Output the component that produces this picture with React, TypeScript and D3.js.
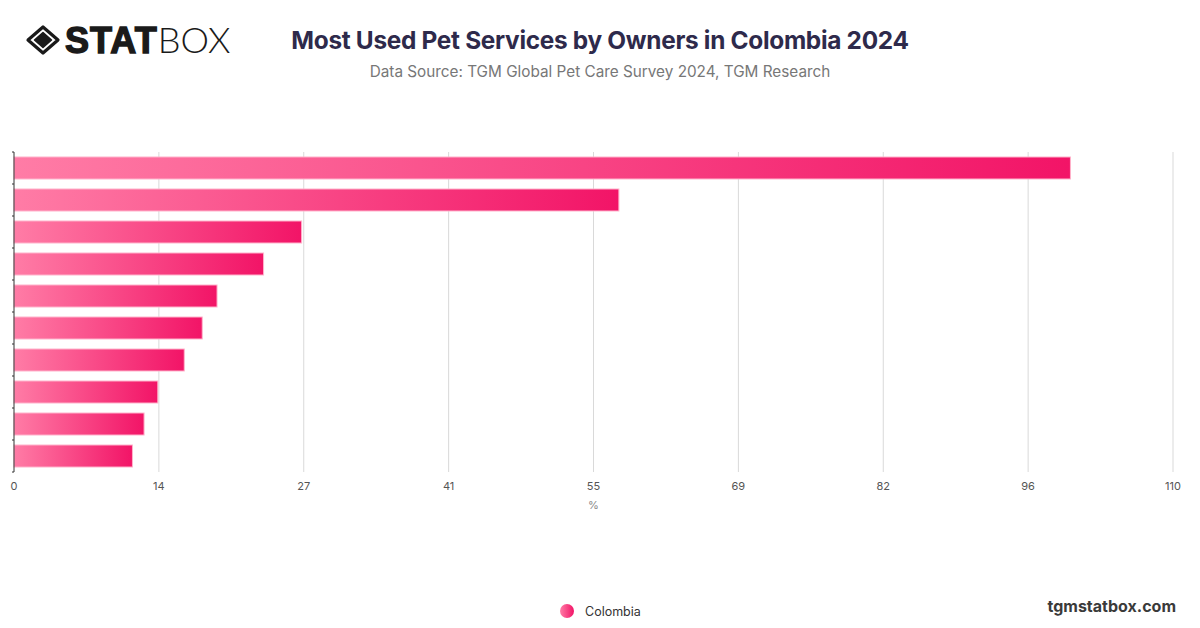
import React, { useRef, useEffect } from "react";
import * as d3 from "d3";

// categories are not labelled in the source chart, kept as ranks
const categories = [
  "Service 1",
  "Service 2",
  "Service 3",
  "Service 4",
  "Service 5",
  "Service 6",
  "Service 7",
  "Service 8",
  "Service 9",
  "Service 10",
];
const colombiaValues = [99.9, 57.2, 27.2, 23.6, 19.2, 17.8, 16.1, 13.6, 12.3, 11.2];
const axisMax = 109.6;
const tickLabels = ["0", "14", "27", "41", "55", "69", "82", "96", "110"];
const seriesName = "Colombia";

const WIDTH = 1200;
const HEIGHT = 628;

const App = () => {
  const svgRef = useRef<SVGSVGElement | null>(null);

  useEffect(() => {
    const svg = d3.select(svgRef.current);
    svg.selectAll("*").remove(); // Clear existing content

    const margin = { top: 152, right: 27, bottom: 156, left: 14 };
    const innerWidth = WIDTH - margin.left - margin.right;
    const innerHeight = HEIGHT - margin.top - margin.bottom;
    const font = "Inter, 'Noto Sans', sans-serif";

    const defs = svg.append("defs");
    const grad = defs
      .append("linearGradient")
      .attr("id", "barGrad")
      .attr("x1", "0%")
      .attr("x2", "100%")
      .attr("y1", "0%")
      .attr("y2", "0%");
    grad.append("stop").attr("offset", "0%").attr("stop-color", "#ff7ca6");
    grad.append("stop").attr("offset", "100%").attr("stop-color", "#f21467");

    const x = d3.scaleLinear().domain([0, axisMax]).range([0, innerWidth]);
    const y = d3
      .scaleBand()
      .domain(categories)
      .range([0, innerHeight])
      .paddingInner(0.3125)
      .paddingOuter(0.156);

    // ticks split the axis in 8 equal steps
    const ticks = tickLabels.map((label, i) => ({
      label,
      value: (axisMax * i) / (tickLabels.length - 1),
    }));

    // header
    const logo = svg.append("g").attr("transform", "translate(43,40)");
    logo
      .append("path")
      .attr("d", "M0,-13 L15,0 L0,13 L-15,0 Z")
      .attr("fill", "none")
      .attr("stroke", "#1a1a1a")
      .attr("stroke-width", 3.2)
      .attr("stroke-linejoin", "round");
    logo
      .append("path")
      .attr("d", "M0,-7.5 L8.5,0 L0,7.5 L-8.5,0 Z")
      .attr("fill", "#1a1a1a")
      .attr("stroke", "#1a1a1a")
      .attr("stroke-width", 1.5)
      .attr("stroke-linejoin", "round");
    const logoText = svg
      .append("text")
      .attr("x", 65)
      .attr("y", 53)
      .attr("font-family", "'Liberation Sans', Arial, sans-serif")
      .attr("font-size", 36)
      .attr("fill", "#1a1a1a");
    logoText
      .append("tspan")
      .attr("font-weight", 900)
      .attr("stroke", "#1a1a1a")
      .attr("stroke-width", 1.4)
      .attr("letter-spacing", 1)
      .text("STAT");
    logoText
      .append("tspan")
      .attr("font-weight", 300)
      .attr("font-family", "Lato, 'Open Sans', sans-serif")
      .text("BOX");

    svg
      .append("text")
      .attr("x", 600)
      .attr("y", 49)
      .attr("text-anchor", "middle")
      .attr("font-family", font)
      .attr("font-size", 24.4)
      .attr("font-weight", 700)
      .attr("fill", "#2e2a4b")
      .attr("letter-spacing", -0.3)
      .text("Most Used Pet Services by Owners in Colombia 2024");

    svg
      .append("text")
      .attr("x", 600)
      .attr("y", 77)
      .attr("text-anchor", "middle")
      .attr("font-family", font)
      .attr("font-size", 15.3)
      .attr("fill", "#777")
      .text("Data Source: TGM Global Pet Care Survey 2024, TGM Research");

    const g = svg
      .append("g")
      .attr("transform", `translate(${margin.left},${margin.top})`);

    // grid lines
    g.selectAll(".grid")
      .data(ticks.slice(1))
      .enter()
      .append("line")
      .attr("class", "grid")
      .attr("x1", (d) => x(d.value))
      .attr("x2", (d) => x(d.value))
      .attr("y1", 0)
      .attr("y2", innerHeight)
      .attr("stroke", "#d9d9d9")
      .attr("stroke-width", 1);

    // x tick labels
    g.selectAll(".xlabel")
      .data(ticks)
      .enter()
      .append("text")
      .attr("class", "xlabel")
      .attr("x", (d) => x(d.value))
      .attr("y", innerHeight + 18)
      .attr("text-anchor", "middle")
      .attr("font-family", font)
      .attr("font-size", 11)
      .attr("fill", "#555")
      .text((d) => d.label);

    g.append("text")
      .attr("x", innerWidth / 2)
      .attr("y", innerHeight + 37)
      .attr("text-anchor", "middle")
      .attr("font-family", font)
      .attr("font-size", 11)
      .attr("fill", "#888")
      .text("%");

    // bars
    g.selectAll(".bar")
      .data(colombiaValues)
      .enter()
      .append("rect")
      .attr("class", "bar")
      .attr("x", 0)
      .attr("y", (_, i) => y(categories[i]) as number)
      .attr("width", (d) => x(d))
      .attr("height", y.bandwidth())
      .attr("fill", "url(#barGrad)")
      .attr("stroke", "#ffb3cb")
      .attr("stroke-width", 1);

    // y axis line with small ticks at band edges
    g.append("line")
      .attr("x1", 0)
      .attr("x2", 0)
      .attr("y1", 0)
      .attr("y2", innerHeight)
      .attr("stroke", "#333")
      .attr("stroke-width", 1);
    const step = y.step();
    g.selectAll(".ytick")
      .data(d3.range(categories.length + 1))
      .enter()
      .append("line")
      .attr("class", "ytick")
      .attr("x1", -2)
      .attr("x2", 0)
      .attr("y1", (i) => i * step)
      .attr("y2", (i) => i * step)
      .attr("stroke", "#333")
      .attr("stroke-width", 1);

    // legend
    svg
      .append("circle")
      .attr("cx", 567)
      .attr("cy", 611)
      .attr("r", 7)
      .attr("fill", "url(#barGrad)");
    svg
      .append("text")
      .attr("x", 585)
      .attr("y", 615.5)
      .attr("font-family", font)
      .attr("font-size", 12.5)
      .attr("fill", "#333")
      .text(seriesName);

    svg
      .append("text")
      .attr("x", 1176)
      .attr("y", 612)
      .attr("text-anchor", "end")
      .attr("font-family", font)
      .attr("font-size", 16)
      .attr("font-weight", 700)
      .attr("fill", "#3a3a3a")
      .text("tgmstatbox.com");
  }, []);

  return (
    <svg
      ref={svgRef}
      width={WIDTH}
      height={HEIGHT}
      style={{ position: "absolute", left: 0, top: 0, background: "#fff" }}
    />
  );
};

export default App;
